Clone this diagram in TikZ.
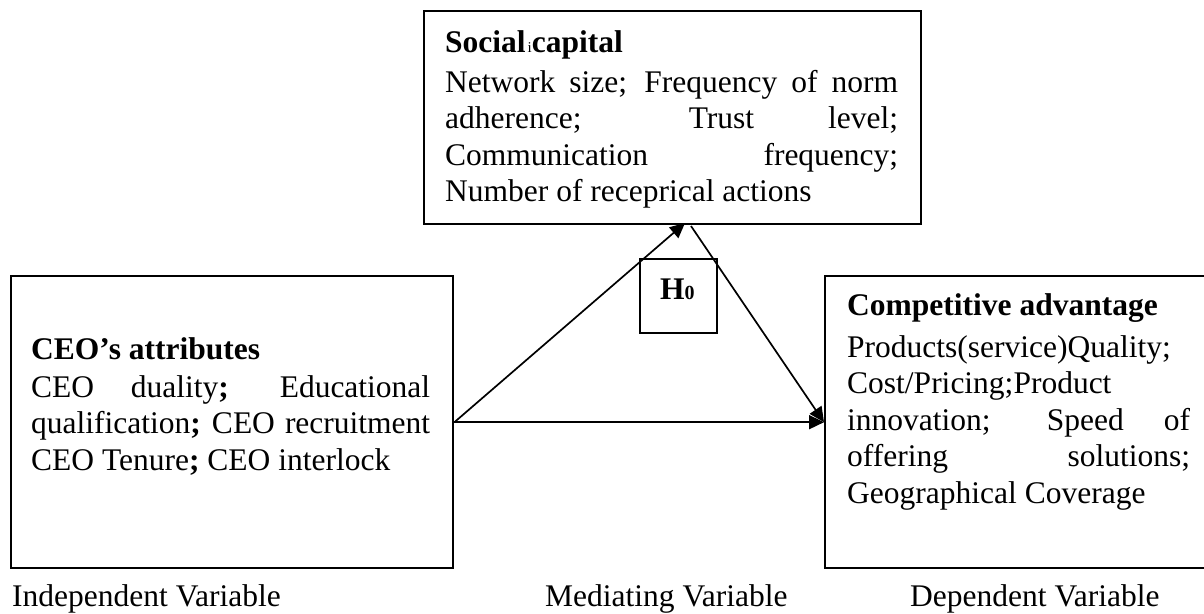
\documentclass[tikz,border=0pt]{standalone}
\usepackage{fontspec}
\setmainfont{Liberation Serif}
\usetikzlibrary{arrows.meta}
\tolerance=10000
\hyphenpenalty=10000
\begin{document}
\begin{tikzpicture}[x=1pt,y=-1pt,
  box/.style={draw, line width=2.4pt, inner sep=0pt, anchor=north west},
  txt/.style={anchor=base west, inner sep=0pt, align=justify, font=\fontsize{31.5}{36.5}\selectfont},
  lbl/.style={anchor=base west, inner sep=0pt, font=\fontsize{31.5}{36.5}\selectfont},
  arr/.style={line width=1.7pt, -{Triangle[length=15pt,width=14pt]}},
]
\useasboundingbox (0,0) rectangle (1204,613);
\fill[white] (0,0) rectangle (1204,613);
% boxes
\node[box, minimum width=497pt, minimum height=213pt] (sc) at (423,10) {};
\node[box, minimum width=442pt, minimum height=292pt] (cea) at (10,275) {};
\node[box, minimum width=391pt, minimum height=292pt] (ca) at (824,275) {};
\node[box, line width=1.5pt, minimum width=77pt, minimum height=74pt] (h) at (639,258) {};
% texts
\node[txt, text width=453pt] (sct) at (445,52) {\textbf{Social}\hspace{2pt}{\fontsize{15}{15}\selectfont i}\textbf{capital}\\[3.5pt]
Network size; Frequency of norm\linebreak adherence; Trust level;\linebreak Communication frequency;\linebreak Number of receprical actions};
\node[txt, text width=399pt] (cet) at (31,359) {\textbf{CEO’s attributes}\\[1.5pt]
CEO duality\textbf{;} Educational\linebreak qualification\textbf{;} CEO recruitment\linebreak CEO Tenure\textbf{;} CEO interlock};
\node[txt, text width=343pt] (cat) at (847,315) {\textbf{Competitive advantage}\\[5.5pt]
Products(service)Quality;\\ Cost/Pricing;Product\\ innovation; Speed of\linebreak offering solutions;\linebreak Geographical Coverage};
\node[txt] (ht) at (660,299) {\textbf{H}{\fontsize{20}{20}\selectfont\textbf{0}}};
% connectors
\coordinate (tip) at (685,223);
\coordinate (dstart) at (691,226);
\draw[arr] (cea.east) -- (tip);
\draw[arr] (dstart) -- (ca.west);
\draw[arr] (cea.east) -- (ca.west);
% labels
\node[lbl] (iv) at (12,606) {Independent Variable};
\node[lbl] (mv) at (545,606) {Mediating Variable};
\node[lbl] (dv) at (910,606) {Dependent Variable};
\end{tikzpicture}
\end{document}
